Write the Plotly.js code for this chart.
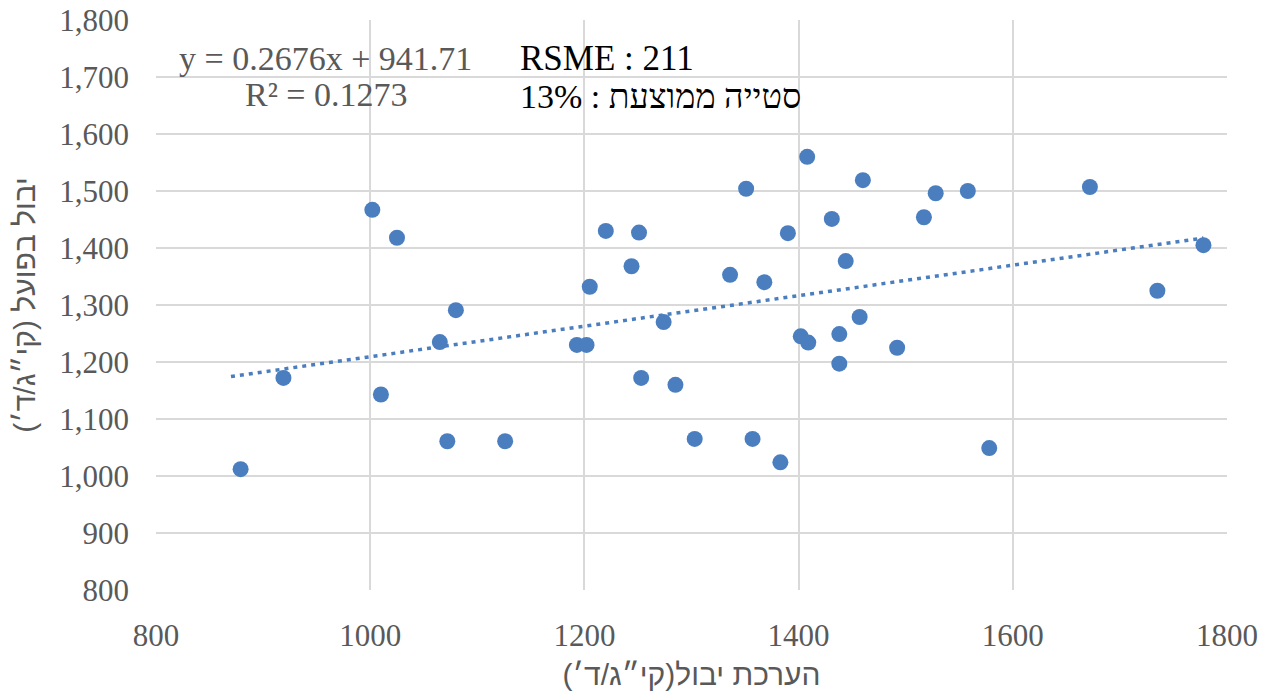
<!DOCTYPE html>
<html>
<head>
<meta charset="utf-8">
<script src="https://cdn.plot.ly/plotly-3.0.1.min.js"></script>
<style>html,body{margin:0;padding:0;background:#fff;}#chart{width:1272px;height:691px;}</style>
</head>
<body>
<div id="chart"></div>
<script>
// Estimated yield (x) vs actual yield (y)
const estimated = [879, 919, 1002, 1025, 1010, 1065, 1080, 1072, 1126, 1193, 1202, 1205, 1220, 1244, 1251, 1253, 1274, 1285, 1303, 1336, 1351, 1357, 1368, 1383, 1390, 1408, 1402, 1409, 1431, 1438, 1438, 1444, 1457, 1460, 1492, 1517, 1528, 1558, 1578, 1672, 1735, 1778];
const actual    = [1012, 1172, 1467, 1418, 1143, 1235, 1291, 1061, 1061, 1230, 1230, 1332, 1430, 1368, 1427, 1172, 1270, 1160, 1065, 1353, 1504, 1065, 1340, 1024, 1426, 1560, 1245, 1234, 1451, 1249, 1197, 1377, 1279, 1519, 1225, 1454, 1496, 1500, 1049, 1507, 1325, 1405];
const trendSlope = 0.2676;
const trendIntercept = 941.71;
const trendRange = [870, 1778];
const xTicks = [800, 1000, 1200, 1400, 1600, 1800];
const yTicks = [800, 900, 1000, 1100, 1200, 1300, 1400, 1500, 1600, 1700, 1800];
const labels = {
  x: "\u202Bהערכת יבול(קי״ג/ד׳)\u202C",
  y: "\u202Bיבול בפועל (קי״ג/ד׳)\u202C",
  eq: "y = 0.2676x + 941.71",
  r2: "R² = 0.1273",
  rsme: "RSME : 211",
  dev: "\u202Bסטייה ממוצעת : 13%\u202C"
};

const blue = '#4a7ebf';
const grey = '#595959';
const trendX = trendRange;
const trendY = trendRange.map(v => trendSlope * v + trendIntercept);

const data = [
  {x: trendX, y: trendY, type: 'scatter', mode: 'lines',
   line: {color: blue, width: 3.5, dash: '4px,5px'}, hoverinfo: 'skip'},
  {x: estimated, y: actual, type: 'scatter', mode: 'markers',
   marker: {color: blue, size: 16}}
];

const serif = 'Liberation Serif, Times New Roman, serif';
const sans = 'Liberation Sans, Arial, sans-serif';
const tickFont = {family: serif, size: 31, color: grey};
const layout = {
  width: 1272, height: 691,
  margin: {l: 156, r: 45, t: 20, b: 101},
  paper_bgcolor: '#fff', plot_bgcolor: '#fff',
  showlegend: false,
  xaxis: {
    range: [800, 1800], tickvals: xTicks, ticktext: xTicks.map(String),
    showgrid: true, gridcolor: '#d9d9d9', gridwidth: 2, zeroline: false,
    showline: false, ticks: '', tickfont: tickFont, ticklabelstandoff: 24,
    title: {text: labels.x, font: {family: sans, size: 30, color: grey}, standoff: 14}
  },
  yaxis: {
    range: [800, 1800], tickvals: yTicks, tickformat: ',',
    showgrid: true, gridcolor: '#d9d9d9', gridwidth: 2, zeroline: false,
    showline: false, ticks: '', tickfont: tickFont, ticklabelstandoff: 26,
    title: {text: labels.y, font: {family: sans, size: 30, color: grey}, standoff: 14}
  },
  annotations: [
    {text: labels.eq, xref: 'paper', yref: 'paper', x: 0.02, y: 0.933, xanchor: 'left', yanchor: 'middle', showarrow: false,
     font: {family: serif, size: 34, color: grey}},
    {text: labels.r2, xref: 'paper', yref: 'paper', x: 0.081, y: 0.87, xanchor: 'left', yanchor: 'middle', showarrow: false,
     font: {family: serif, size: 34, color: grey}},
    {text: labels.rsme, xref: 'paper', yref: 'paper', x: 0.338, y: 0.933, xanchor: 'left', yanchor: 'middle', showarrow: false,
     font: {family: serif, size: 35, color: '#000'}},
    {text: labels.dev, xref: 'paper', yref: 'paper', x: 0.338, y: 0.865, xanchor: 'left', yanchor: 'middle', showarrow: false,
     font: {family: serif, size: 34, color: '#000'}}
  ]
};

Plotly.newPlot('chart', data, layout, {displayModeBar: false, responsive: false});
</script>
</body>
</html>
